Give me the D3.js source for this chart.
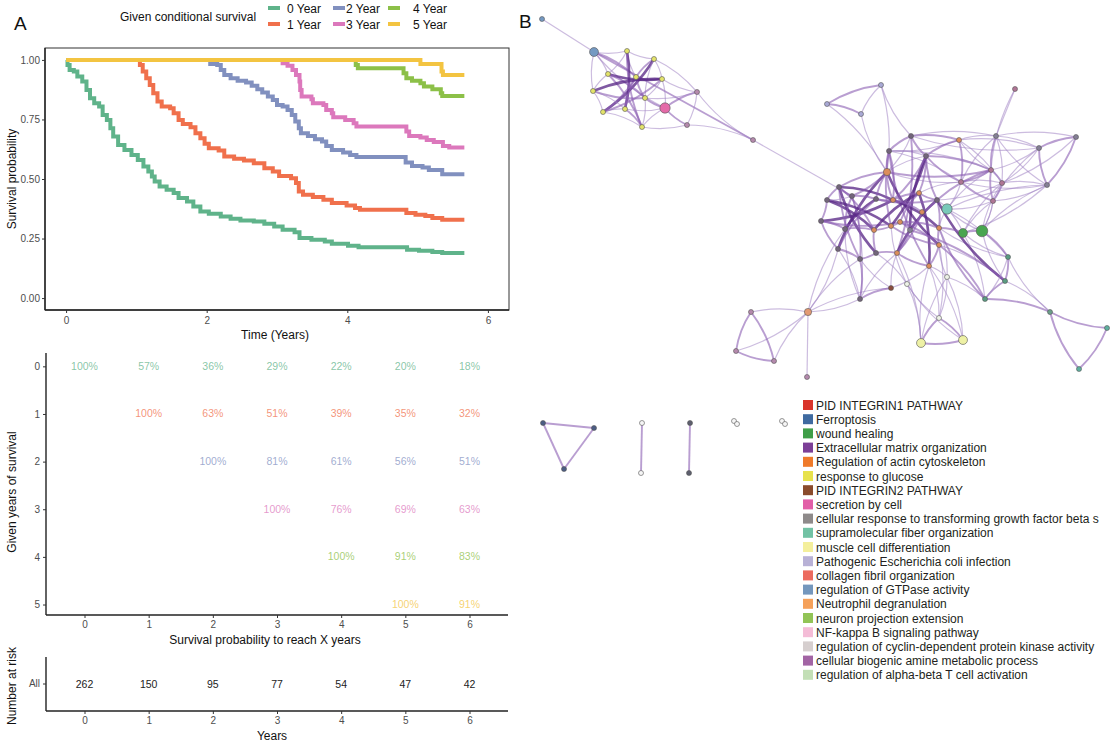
<!DOCTYPE html>
<html><head><meta charset="utf-8">
<script src="https://cdn.jsdelivr.net/npm/d3@7"></script>
<style>body{margin:0;background:#fff}svg{display:block}text{font-family:"Liberation Sans",Arial,sans-serif}</style>
</head><body><svg id="c" width="1112" height="744"></svg>
<script>
// ================= DATA =================
const seriesNames = ["0 Year","1 Year","2 Year","3 Year","4 Year","5 Year"];
const legendTitle = "Given conditional survival";
// Kaplan-Meier style step curves: [time (years), survival probability]
const surv0 = [[0,1],[0.02,0.979],[0.05,0.958],[0.11,0.951],[0.16,0.93],[0.23,0.909],[0.29,0.874],[0.34,0.839],[0.40,0.818],[0.47,0.804],[0.52,0.769],[0.58,0.748],[0.63,0.713],[0.67,0.678],[0.74,0.643],[0.83,0.622],[0.93,0.601],[1.02,0.58],[1.10,0.552],[1.17,0.531],[1.22,0.51],[1.26,0.49],[1.33,0.469],[1.43,0.455],[1.53,0.441],[1.60,0.42],[1.72,0.406],[1.81,0.385],[1.91,0.364],[2.03,0.354],[2.20,0.343],[2.34,0.333],[2.48,0.326],[2.67,0.322],[2.82,0.312],[2.96,0.301],[3.08,0.287],[3.25,0.276],[3.32,0.252],[3.49,0.245],[3.68,0.238],[3.78,0.228],[4.01,0.22],[4.16,0.213],[4.85,0.203],[5.02,0.199],[5.21,0.193],[5.35,0.189],[5.665,0.189]];
const surv1 = [[1.02,1],[1.05,0.979],[1.09,0.951],[1.14,0.923],[1.19,0.895],[1.24,0.86],[1.30,0.825],[1.36,0.804],[1.48,0.797],[1.53,0.776],[1.60,0.748],[1.66,0.731],[1.77,0.717],[1.84,0.692],[1.91,0.671],[1.97,0.648],[2.03,0.629],[2.17,0.62],[2.25,0.594],[2.39,0.585],[2.53,0.578],[2.67,0.566],[2.82,0.545],[2.94,0.531],[3.03,0.513],[3.20,0.503],[3.27,0.483],[3.31,0.448],[3.37,0.434],[3.51,0.424],[3.66,0.413],[3.78,0.399],[3.99,0.389],[4.11,0.378],[4.18,0.371],[4.84,0.357],[4.97,0.35],[5.11,0.345],[5.21,0.336],[5.35,0.329],[5.665,0.329]];
const surv2 = [[2.03,1],[2.05,0.983],[2.15,0.979],[2.20,0.958],[2.25,0.937],[2.34,0.923],[2.44,0.913],[2.56,0.905],[2.64,0.891],[2.72,0.877],[2.79,0.863],[2.87,0.846],[2.94,0.832],[3.00,0.811],[3.08,0.804],[3.15,0.79],[3.21,0.769],[3.26,0.741],[3.31,0.713],[3.34,0.692],[3.44,0.681],[3.54,0.667],[3.64,0.657],[3.70,0.639],[3.78,0.622],[3.94,0.611],[4.04,0.601],[4.13,0.592],[4.83,0.569],[4.92,0.555],[5.07,0.548],[5.16,0.538],[5.35,0.52],[5.665,0.52]];
const surv3 = [[3.05,1],[3.08,0.986],[3.15,0.975],[3.22,0.958],[3.27,0.937],[3.32,0.909],[3.33,0.874],[3.35,0.846],[3.49,0.835],[3.51,0.818],[3.66,0.811],[3.70,0.79],[3.78,0.776],[3.80,0.759],[3.97,0.748],[4.09,0.734],[4.13,0.72],[4.84,0.699],[4.88,0.681],[5.04,0.674],[5.13,0.664],[5.23,0.655],[5.36,0.639],[5.45,0.632],[5.665,0.632]];
const surv4 = [[4.09,1],[4.12,0.979],[4.15,0.965],[4.80,0.944],[4.84,0.923],[4.92,0.913],[5.04,0.902],[5.09,0.888],[5.21,0.877],[5.33,0.86],[5.35,0.849],[5.665,0.849]];
const surv5 = [[0,1],[5.04,0.983],[5.34,0.951],[5.36,0.937],[5.665,0.937]];
const survSeries = [surv0,surv1,surv2,surv3,surv4,surv5];
const timeTicks = [0,2,4,6];
const probTicks = [0,0.25,0.5,0.75,1];

// conditional survival table (%); null = not shown
const reachYears = [0,1,2,3,4,5,6];
const givenYears = [0,1,2,3,4,5];
const condRow0 = [100,57,36,29,22,20,18];
const condRow1 = [null,100,63,51,39,35,32];
const condRow2 = [null,null,100,81,61,56,51];
const condRow3 = [null,null,null,100,76,69,63];
const condRow4 = [null,null,null,null,100,91,83];
const condRow5 = [null,null,null,null,null,100,91];
const condRows = [condRow0,condRow1,condRow2,condRow3,condRow4,condRow5];
const riskLabel = "All";
const riskCounts = [262,150,95,77,54,47,42];

// network legend
const netLegendLabels = ["PID INTEGRIN1 PATHWAY","Ferroptosis","wound healing","Extracellular matrix organization","Regulation of actin cytoskeleton","response to glucose","PID INTEGRIN2 PATHWAY","secretion by cell","cellular response to transforming growth factor beta s","supramolecular fiber organization","muscle cell differentiation","Pathogenic Escherichia coli infection","collagen fibril organization","regulation of GTPase activity","Neutrophil degranulation","neuron projection extension","NF-kappa B signaling pathway","regulation of cyclin-dependent protein kinase activity","cellular biogenic amine metabolic process","regulation of alpha-beta T cell activation"];

// network nodes: [id, layoutX, layoutY, cluster, size]
const netNodes = [
["a0",542,19,"gtp",1],["a1",594,52,"gtp",3],["a2",627,51,"glu",1],["a3",654,59,"glu",1],["a4",608,74,"glu",1],["a5",636,77,"glu",1],["a6",662,79,"glu",1],["a7",593,91,"glu",1],["a8",645,98,"glu",1],["a9",625,109,"glu",1],["a10",603,112,"glu",1],["a11",642,127,"glu",1],["a12",665,108,"sec",4],["a13",697,92,"amine",1],["a14",687,125,"amine",1],["a15",753,140,"amine",1],
["m1",881,85,"ecoli",1],["m2",827,104,"ecoli",1],["m3",861,114,"ecoli",1],["m4",1015,89,"int1",1],["m5",911,136,"ecm",1],["m6",889,151,"ecm",1],["m7",959,140,"actin",1],["m8",996,136,"tgf",1],["m9",1076,137,"tgf",1],["m10",1039,148,"tgf",1],["m11",1047,185,"tgf",1],["m12",926,156,"ecm",1],["m13",887,172,"actin",2],["m14",991,170,"int1",1],["m15",1002,183,"int1",1],["m16",961,182,"int1",1],["m17",993,201,"int1",1],
["m18",839,187,"ecm",1],["m19",827,200,"ecm",1],["m20",852,196,"ecm",1],["m21",876,199,"ecm",1],["m22",893,200,"actin",1],["m23",919,193,"actin",1],["m24",937,200,"ecm",1],["m25",947,209,"fiber",4],["m26",821,221,"ecm",1],["m27",845,229,"ecm",1],["m28",874,230,"actin",1],["m29",891,226,"actin",1],["m30",900,222,"actin",1],["m31",910,230,"tgf",1],["m32",939,228,"actin",1],["m33",963,233,"wound",3],["m34",982,231,"wound",5],
["m35",838,249,"ecm",1],["m36",860,259,"ecm",1],["m37",876,253,"ecm",1],["m38",897,253,"actin",1],["m39",939,245,"actin",1],["m40",929,266,"actin",1],["m41",947,277,"light",1],["m42",907,284,"light",1],["m43",891,288,"int2",1],["m44",860,299,"ecm",1],["m45",1008,257,"alpha",1],["m46",1005,281,"alpha",1],["m47",985,299,"alpha",1],["m48",939,318,"light",1],["m49",921,343,"muscle",3],["m50",963,340,"muscle",3],
["m51",808,312,"coll",2],["m52",751,312,"amine",1],["m53",736,351,"amine",1],["m54",774,361,"amine",1],["m55",807,377,"amine",1],["m56",1050,312,"neuro",1],["m57",1107,328,"teal",1],["m58",1079,369,"teal",1],["m59",922,212,"actin",1],
["b1",543,423,"ferro",1],["b2",594,428,"ferro",1],["b3",564,469,"ferro",1],["c1",642,423,"white",1],["c2",641,473,"white",1],["d1",690,423,"dgrey",1],["d2",689,473,"dgrey",1],["e1",734,421,"white",1],["e2",737,424,"white",1],["f1",782,421,"white",1],["f2",785,424,"white",1]
];
// network edges: "source-target:weight[:s for straight]"
const netEdges = [
"a0-a1:1:s","a1-a2:1","a1-a4:1","a1-a7:1","a1-a5:2","a1-a12:1","a1-a15:2:s","a2-a3:1","a2-a4:1","a2-a5:1","a2-a9:3","a2-a11:2","a3-a6:1","a3-a5:2","a3-a10:3","a3-a8:1","a3-a13:1","a4-a6:3","a4-a8:2","a4-a7:1","a4-a11:2","a5-a9:2","a5-a10:2","a5-a8:2","a6-a8:1","a6-a7:3","a6-a12:1","a6-a13:1","a7-a10:1","a7-a8:2","a7-a9:1","a8-a12:2","a8-a11:1","a9-a10:1","a9-a11:2","a9-a12:1","a10-a11:1","a10-a6:2","a11-a12:1","a11-a14:1","a12-a13:2","a12-a14:2","a13-a14:1","a13-a15:1","a14-a15:1","a8-a13:1","a15-m20:1:s",
"m1-m2:2","m2-m3:2","m1-m3:1","m1-m13:1","m3-m13:1","m2-m13:1","m1-m5:1",
"m4-m8:1:s","m5-m6:2","m5-m7:2","m5-m12:2","m5-m13:1","m5-m10:1","m5-m8:1","m6-m13:2","m6-m12:1","m6-m7:1","m7-m8:1","m7-m12:2","m7-m16:2","m7-m14:1","m7-m10:1","m8-m14:2","m8-m10:1","m8-m11:1","m8-m15:1","m8-m16:1","m8-m9:1","m9-m10:2","m9-m11:2","m10-m11:2","m10-m15:1","m11-m15:1","m11-m17:1","m12-m16:2","m12-m14:2","m12-m13:1","m14-m15:2","m14-m17:2","m15-m17:2","m16-m17:2","m14-m16:2","m15-m16:1","m6-m16:1","m13-m14:2","m12-m23:2","m16-m23:1","m16-m25:1","m14-m25:1","m17-m25:1","m17-m33:1","m17-m34:1","m15-m34:1","m15-m24:1","m14-m24:2",
"m9-m15:1","m10-m17:1","m11-m16:1","m4-m14:1","m7-m15:1","m13-m16:1","m6-m14:1","m11-m25:1","m10-m14:1","m25-m34:1","m25-m45:1","m46-m39:1","m45-m32:1","m47-m33:1","m38-m49:1","m40-m49:1","m41-m47:1","m48-m39:1","m20-m44:1","m27-m44:1","m51-m43:1",
"m18-m37:3","m19-m28:3","m26-m22:3","m35-m13:3","m36-m20:2","m27-m21:3","m18-m36:2","m19-m29:3","m26-m30:2","m35-m21:2","m18-m19:2","m19-m26:2","m26-m35:2","m35-m36:2","m36-m37:2","m18-m13:2","m18-m20:2","m20-m21:2","m21-m22:2","m27-m28:2","m20-m27:2","m26-m27:2","m28-m37:2","m18-m22:3","m13-m21:2","m18-m28:2","m19-m20:1","m13-m20:2",
"m6-m40:2","m5-m38:2","m12-m31:3","m23-m40:3","m13-m39:3","m22-m32:3","m21-m24:2","m30-m39:2","m29-m12:3","m28-m23:3","m24-m38:3","m22-m59:2","m59-m24:2","m59-m31:2","m13-m22:2","m22-m23:2","m23-m24:2","m24-m32:2","m32-m39:2","m39-m40:2","m38-m40:2","m37-m38:2","m29-m30:2","m30-m31:2","m28-m29:2","m31-m38:2","m29-m39:2","m30-m32:2","m23-m30:2","m6-m22:2","m6-m29:2","m12-m22:2","m12-m24:2","m59-m38:2",
"m24-m46:3","m31-m46:2","m32-m47:2","m32-m33:2","m25-m24:1","m25-m33:1","m25-m32:1","m33-m34:2","m33-m45:1","m34-m45:2","m34-m46:1","m45-m46:2","m46-m47:2","m45-m47:1","m47-m39:2","m46-m56:1","m45-m56:1","m47-m56:2","m56-m57:2","m57-m58:2","m56-m58:2","m33-m15:1","m34-m17:1","m11-m33:1","m11-m34:1",
"m36-m44:2","m38-m44:1","m44-m43:2","m43-m40:1","m43-m38:1","m42-m37:1","m42-m49:1","m42-m48:1","m41-m48:1","m41-m49:1","m41-m50:1","m48-m49:2","m48-m50:2","m49-m50:2","m40-m48:1","m39-m41:1","m32-m41:1","m29-m42:1","m40-m41:1","m42-m50:1","m40-m50:1","m36-m43:1","m35-m44:1",
"m51-m44:1","m51-m36:1","m51-m52:1","m51-m53:1","m51-m54:1","m51-m55:1:s","m52-m53:2","m52-m54:2","m53-m54:2","m51-m27:1","m51-m35:1",
"b1-b2:2:s","b2-b3:2:s","b1-b3:2:s","c1-c2:2:s","d1-d2:2:s","e1-e2:1:s","f1-f2:1:s"
];

// ================= STYLE =================
const seriesColors = ["#5fb38a","#f0704c","#8190bf","#dc78bc","#8cc048","#f3c441"];
const legendColors = ["#d9342b","#3f6aa0","#3f9e48","#7c3f97","#ef7a2a","#e7e24d","#8a4b2c","#e25fa8","#8e8a8a","#72c2a4","#f4ef9c","#b8b1d6","#ec6b5f","#7497bd","#f5a15a","#92c457","#f4bcd7","#d6cfcf","#a264a4","#c3dfb6"];
const clusterColors = {gtp:"#7499c2",glu:"#e4e46a",sec:"#e46aa8",amine:"#b589ad",ecoli:"#a9a9d6",int1:"#b07595",ecm:"#73657c",actin:"#dc8d5c",tgf:"#857f96",fiber:"#79c9b9",wound:"#48a550",alpha:"#5a9c82",light:"#eef3e8",muscle:"#eef1a5",int2:"#8a4b3c",coll:"#e39a74",neuro:"#6b9f8a",teal:"#5fb0a0",ferro:"#4b5d84",white:"#f6f6f6",dgrey:"#5d5f6e"};
const tickCol = "#4d4d4d";
const titleSize = 12;

const svg = d3.select("#c");

// ================= PANEL A : survival curves =================
const x = d3.scaleLinear().domain([-0.3,6.3]).range([45,509]);
const y = d3.scaleLinear().domain([-0.05,1.05]).range([310,48]);

svg.append("text").attr("x",14).attr("y",30).attr("font-size",19).attr("fill","#111").text("A");

// legend
svg.append("text").attr("x",120).attr("y",21).attr("font-size",12).attr("fill","#111").text(legendTitle);
const legCols = [268,333,388], legTextX = [287,346,413], legRows = [8,24];
seriesNames.forEach((n,i)=>{
  const c = Math.floor(i/2), r = i%2;
  svg.append("line").attr("x1",legCols[c]).attr("x2",legCols[c]+12).attr("y1",legRows[r]).attr("y2",legRows[r])
    .attr("stroke",seriesColors[i]).attr("stroke-width",4);
  svg.append("text").attr("x",legTextX[c]).attr("y",legRows[r]+4.5).attr("font-size",12).attr("fill","#111").text(n);
});

const gK = svg.append("g");
gK.append("rect").attr("x",45).attr("y",48).attr("width",464).attr("height",262).attr("fill","none").attr("stroke","#333").attr("stroke-width",1);
const line = d3.line().x(d=>x(d[0])).y(d=>y(d[1])).curve(d3.curveStepAfter);
survSeries.forEach((s,i)=>{
  gK.append("path").attr("d",line(s)).attr("fill","none").attr("stroke",seriesColors[i]).attr("stroke-width",4);
});
gK.append("line").attr("x1",45).attr("x2",45).attr("y1",48).attr("y2",310).attr("stroke","#222").attr("stroke-width",1.4);
gK.append("line").attr("x1",45).attr("x2",509).attr("y1",310).attr("y2",310).attr("stroke","#222").attr("stroke-width",1.4);

function styleAxis(g){
  g.select(".domain").remove();
  g.selectAll(".tick line").attr("stroke","#333");
  g.selectAll(".tick text").attr("fill",tickCol).attr("font-size",10).attr("font-family","Liberation Sans, Arial, sans-serif");
}
svg.append("g").attr("transform","translate(45,0)").call(d3.axisLeft(y).tickValues(probTicks).tickFormat(d3.format(".2f")).tickSize(3).tickPadding(2)).call(styleAxis);
svg.append("g").attr("transform","translate(0,310)").call(d3.axisBottom(x).tickValues(timeTicks).tickFormat(d3.format("d")).tickSize(3).tickPadding(4)).call(styleAxis);
svg.append("text").attr("x",275).attr("y",339).attr("text-anchor","middle").attr("font-size",titleSize).attr("fill","#111").text("Time (Years)");
svg.append("text").attr("transform","translate(16,179) rotate(-90)").attr("text-anchor","middle").attr("font-size",titleSize).attr("fill","#111").text("Survival probability");

// ================= conditional table =================
const xT = d3.scaleLinear().domain([-0.6,6.6]).range([46,508]);
const yT = d3.scaleLinear().domain([-0.28,5.22]).range([353,615]);
const gT = svg.append("g");
condRows.forEach((row,ri)=>{
  row.forEach((v,ci)=>{
    if(v==null) return;
    gT.append("text").attr("x",xT(reachYears[ci])).attr("y",yT(givenYears[ri])+3.5).attr("text-anchor","middle")
      .attr("font-size",10.5).attr("fill",seriesColors[ri]).attr("fill-opacity",0.75).text(v+"%");
  });
});
gT.append("line").attr("x1",46).attr("x2",46).attr("y1",353).attr("y2",615).attr("stroke","#222").attr("stroke-width",1.4);
gT.append("line").attr("x1",46).attr("x2",508).attr("y1",615).attr("y2",615).attr("stroke","#222").attr("stroke-width",1.4);
svg.append("g").attr("transform","translate(46,0)").call(d3.axisLeft(yT).tickValues(givenYears).tickFormat(d3.format("d")).tickSize(3).tickPadding(3)).call(styleAxis);
svg.append("g").attr("transform","translate(0,615)").call(d3.axisBottom(xT).tickValues(reachYears).tickFormat(d3.format("d")).tickSize(3).tickPadding(3)).call(styleAxis);
svg.append("text").attr("x",265).attr("y",644).attr("text-anchor","middle").attr("font-size",titleSize).attr("fill","#111").text("Survival probability to reach X years");
svg.append("text").attr("transform","translate(16,492) rotate(-90)").attr("text-anchor","middle").attr("font-size",titleSize).attr("fill","#111").text("Given years of survival");

// ================= risk table =================
const yR = d3.scaleBand().domain([riskLabel]).range([657,711]);
const gR = svg.append("g");
riskCounts.forEach((v,ci)=>{
  gR.append("text").attr("x",xT(reachYears[ci])).attr("y",yR(riskLabel)+yR.bandwidth()/2+3.5).attr("text-anchor","middle")
    .attr("font-size",10.5).attr("fill","#222").text(v);
});
gR.append("line").attr("x1",46).attr("x2",46).attr("y1",657).attr("y2",711).attr("stroke","#222").attr("stroke-width",1.4);
gR.append("line").attr("x1",46).attr("x2",508).attr("y1",711).attr("y2",711).attr("stroke","#222").attr("stroke-width",1.4);
svg.append("g").attr("transform","translate(46,0)").call(d3.axisLeft(yR).tickSize(3).tickPadding(3)).call(styleAxis);
svg.append("g").attr("transform","translate(0,711)").call(d3.axisBottom(xT).tickValues(reachYears).tickFormat(d3.format("d")).tickSize(3).tickPadding(3)).call(styleAxis);
svg.append("text").attr("x",272).attr("y",740).attr("text-anchor","middle").attr("font-size",titleSize).attr("fill","#111").text("Years");
svg.append("text").attr("transform","translate(16,686) rotate(-90)").attr("text-anchor","middle").attr("font-size",titleSize).attr("fill","#111").text("Number at risk");

// ================= PANEL B : network =================
svg.append("text").attr("x",519).attr("y",28).attr("font-size",19).attr("fill","#111").text("B");
const nx = d3.scaleLinear().domain([530,1110]).range([530,1110]);
const ny = d3.scaleLinear().domain([0,480]).range([0,480]);
const nr = d3.scaleSqrt().domain([1,5]).range([2.5,5.8]);
const nodeById = new Map(netNodes.map(d=>[d[0],d]));
const gE = svg.append("g").attr("fill","none");
const edgeStyle = {1:{c:"#a385c4",o:0.55,w:1.2},2:{c:"#8a5db2",o:0.6,w:1.9},3:{c:"#5b2a88",o:0.78,w:2.6}};
netEdges.forEach((e,i)=>{
  const [pair,w,flag] = e.split(":");
  const [s,t] = pair.split("-");
  const a = nodeById.get(s), b = nodeById.get(t);
  const x1=nx(a[1]),y1=ny(a[2]),x2=nx(b[1]),y2=ny(b[2]);
  const p = d3.path();
  p.moveTo(x1,y1);
  if(flag==="s"){ p.lineTo(x2,y2); }
  else{
    const mx=(x1+x2)/2,my=(y1+y2)/2,dx=x2-x1,dy=y2-y1;
    const k = (i%2?1:-1)*0.11;
    p.quadraticCurveTo(mx-dy*k,my+dx*k,x2,y2);
  }
  const st = edgeStyle[w];
  gE.append("path").attr("d",p.toString()).attr("stroke",st.c).attr("stroke-opacity",st.o).attr("stroke-width",st.w);
});
const gN = svg.append("g");
netNodes.forEach(d=>{
  gN.append("circle").attr("cx",nx(d[1])).attr("cy",ny(d[2])).attr("r",nr(d[4]))
    .attr("fill",clusterColors[d[3]]).attr("stroke","#555").attr("stroke-width",0.6);
});

// legend B
const ly = d3.scaleBand().domain(netLegendLabels).range([398,682]);
netLegendLabels.forEach((l,i)=>{
  svg.append("rect").attr("x",803).attr("y",ly(l)+2).attr("width",10).attr("height",10).attr("fill",legendColors[i]);
  svg.append("text").attr("x",816).attr("y",ly(l)+11.5).attr("font-size",12).attr("fill","#231f20").text(l);
});
</script></body></html>
